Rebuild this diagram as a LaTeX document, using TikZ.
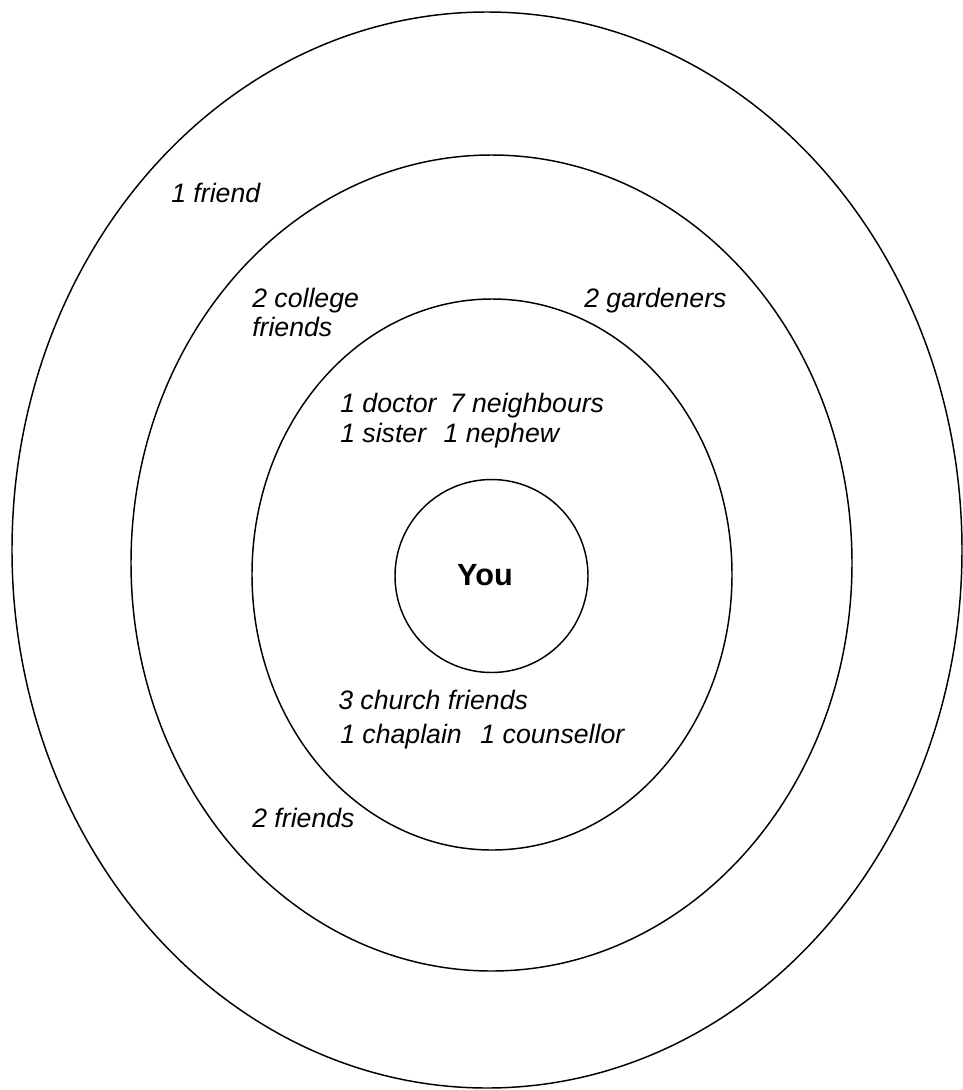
\documentclass[tikz,border=0pt]{standalone}
\usepackage{fontspec}
\setmainfont{Liberation Sans}
\begin{document}
\begin{tikzpicture}[x=0.75pt,y=-0.75pt,
  ring/.style={draw=black,line width=1.1pt},
  lbl/.style={anchor=base west,inner sep=0pt,font=\fontsize{20pt}{22pt}\selectfont\itshape},
  me/.style={inner sep=0pt,font=\fontsize{23pt}{26pt}\selectfont\bfseries}]
\useasboundingbox (0,0) rectangle (963,1090);
% rings
\draw[ring] (487,550) ellipse [x radius=475, y radius=538];
\draw[ring] (491.5,563) ellipse [x radius=360.5, y radius=408];
\draw[ring] (492,574.5) ellipse [x radius=240, y radius=275.5];
\draw[ring] (491.5,576) circle [radius=96.5];
% labels
\node[me] (you) at (485,575) {You};
\node[lbl] (friend1) at (171,202) {1 friend};
\node[lbl] (college1) at (252,307) {2 college};
\node[lbl] (college2) at (252,336) {friends};
\node[lbl] (gard) at (584,307) {2 gardeners};
\node[lbl] (inner1) at (340,412) {1 doctor\hspace{10pt}7 neighbours};
\node[lbl] (inner2) at (340,442) {1 sister\hspace{13pt}1 nephew};
\node[lbl] (church) at (338,709) {3 church friends};
\node[lbl] (chap) at (340,743) {1 chaplain\hspace{14pt}1 counsellor};
\node[lbl] (friends2) at (252,827) {2 friends};
\end{tikzpicture}
\end{document}
